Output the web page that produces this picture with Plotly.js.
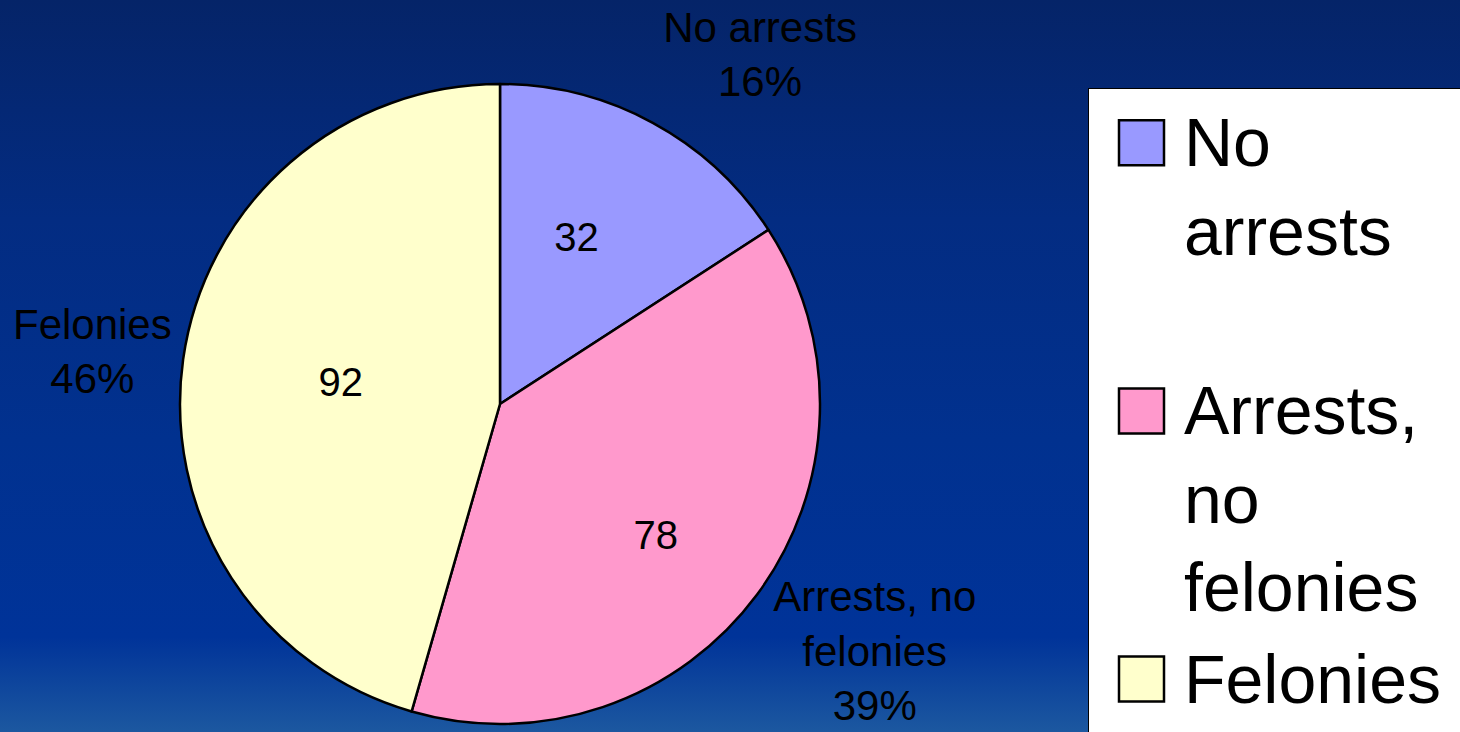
<!DOCTYPE html>
<html>
<head>
<meta charset="utf-8">
<script src="https://cdn.plot.ly/plotly-3.0.1.min.js"></script>
<style>
  html, body { margin: 0; padding: 0; width: 1460px; height: 732px; overflow: hidden; }
  body { position: relative; background: linear-gradient(to bottom, #052468 0%, #032c82 30%, #01318f 60%, #003399 87%, #1c58a0 100%); }
  #chart { position: absolute; left: 0; top: 0; }
</style>
</head>
<body>
<div id="chart"></div>
<script>
// ---- Data ----
const categories = ["No arrests", "Arrests, no felonies", "Felonies"];
const values = [32, 78, 92];
const legendLabels = ["No<br>arrests<br>\u00a0", "Arrests,<br>no<br>felonies", "Felonies\u00a0<br>\u00a0"];
const outsideLabels = ["No arrests", "Arrests, no<br>felonies", "Felonies"];
const colors = ["#9999FF", "#FF99CC", "#FFFFCC"];

// ---- Layout / styling (pixels) ----
const W = 1560, H = 832;               // canvas larger than viewport; page shows top-left 1460x732
const pie = { cx: 500, cy: 404, r: 320 };
const insideNudge = [[-27, 23], [23, 33], [0, 0]];
const outsideNudge = [[-15, -29], [-23, 29], [14, -7]];
const FONT = "Liberation Sans, Arial, sans-serif";

function domainAt(dx, dy) {
  return {
    x: [(pie.cx - pie.r + dx) / W, (pie.cx + pie.r + dx) / W],
    y: [1 - (pie.cy + pie.r + dy) / H, 1 - (pie.cy - pie.r + dy) / H]
  };
}
const clear = values.map(() => "rgba(0,0,0,0)");
const common = {
  type: "pie",
  labels: legendLabels,
  values: values,
  sort: false,
  direction: "clockwise",
  rotation: 0
};

const traces = [];
traces.push(Object.assign({}, common, {
  domain: domainAt(0, 0),
  marker: { colors: colors, line: { color: "#000000", width: 2.5 } },
  textinfo: "none",
  hoverinfo: "label+value+percent",
  showlegend: true
}));

categories.forEach((c, i) => {
  traces.push(Object.assign({}, common, {
    domain: domainAt(insideNudge[i][0], insideNudge[i][1]),
    marker: { colors: clear, line: { width: 0 } },
    texttemplate: values.map((v, j) => (j === i ? "%{value}" : "")),
    textposition: "inside",
    insidetextorientation: "horizontal",
    textfont: { family: FONT, size: 40, color: "#000000" },
    hoverinfo: "skip",
    showlegend: false
  }));
  traces.push(Object.assign({}, common, {
    domain: domainAt(outsideNudge[i][0], outsideNudge[i][1]),
    customdata: outsideLabels,
    marker: { colors: clear, line: { width: 0 } },
    texttemplate: values.map((v, j) => (j === i ? "%{customdata}<br>%{percent:.0%}" : "")),
    textposition: "outside",
    textfont: { family: FONT, size: 42, color: "#000000" },
    hoverinfo: "skip",
    showlegend: false
  }));
});

const layout = {
  width: W,
  height: H,
  margin: { l: 0, r: 0, t: 0, b: 0 },
  paper_bgcolor: "rgba(0,0,0,0)",
  plot_bgcolor: "rgba(0,0,0,0)",
  font: { family: FONT, color: "#000000" },
  showlegend: true,
  legend: {
    x: 1088 / W,
    y: 1 - 88 / H,
    xanchor: "left",
    yanchor: "top",
    valign: "top",
    itemwidth: 85,
    bgcolor: "#FFFFFF",
    bordercolor: "#000000",
    borderwidth: 1,
    font: { family: FONT, size: 68, color: "#000000" },
    tracegroupgap: 0
  }
};

Plotly.newPlot("chart", traces, layout, { displayModeBar: false, staticPlot: true }).then(gd => {
  // enlarge the legend swatches to match the reference's big squares
  gd.querySelectorAll(".legend .legendpoints path").forEach(p => {
    const t = p.getAttribute("transform") || "";
    p.setAttribute("transform", t + " translate(5,3) scale(3.75)");
    p.style.vectorEffect = "non-scaling-stroke";
    p.style.strokeWidth = "2.5px";
  });
});
</script>
</body>
</html>
